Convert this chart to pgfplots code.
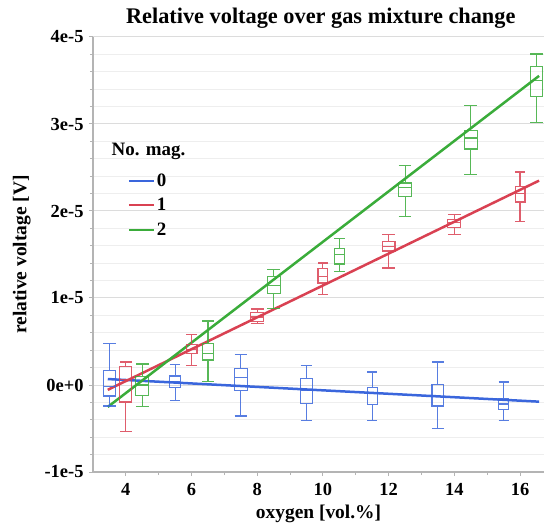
\documentclass[border=0pt]{standalone}
\usepackage{fontspec}
\setmainfont{Liberation Serif}
\usepackage{pgfplots}
\pgfplotsset{compat=1.18}

\definecolor{cblue}{RGB}{58,102,220}
\definecolor{cred}{RGB}{217,65,82}
\definecolor{cgreen}{RGB}{58,172,58}
\definecolor{gridmaj}{RGB}{220,220,220}
\definecolor{gridmin}{RGB}{238,238,238}
\definecolor{axisgray}{RGB}{180,180,180}

% One box with whiskers: colour, position, lower whisker, lower quartile,
% median, upper quartile, upper whisker, box width (voltages in 1e-5 V)
\newcommand{\voltbox}[8]{%
  \pgfmathsetmacro\bl{#2-#8/2}\pgfmathsetmacro\br{#2+#8/2}%
  \edef\doplot{\noexpand\addplot[draw=#1, line width=1.1bp, opacity=0.85,
      forget plot, unbounded coords=jump, line join=miter]
    coordinates {(\bl,#4) (\br,#4) (\br,#6) (\bl,#6) (\bl,#4) (\br,#4) (#2,nan)
      (\bl,#5) (\br,#5) (#2,nan)
      (#2,#4) (#2,#3) (#2,nan) (\bl,#3) (\br,#3) (#2,nan)
      (#2,#6) (#2,#7) (#2,nan) (\bl,#7) (\br,#7)};}%
  \doplot}

\begin{document}
\begin{tikzpicture}
\begin{axis}[
  scale only axis,
  width=451bp, height=435bp,
  xmin=3, xmax=16.73,
  ymin=-1, ymax=4,
  axis x line*=bottom, axis y line*=left,
  axis line style={axisgray, line width=1.6bp},
  xtick={4,6,8,10,12,14,16},
  xticklabels={\textbf{4},\textbf{6},\textbf{8},\textbf{10},\textbf{12},\textbf{14},\textbf{16}},
  minor xtick={5,7,9,11,13,15},
  ytick={-1,0,1,2,3,4},
  yticklabels={\textbf{-1e-5},\textbf{0e+0},\textbf{1e-5},\textbf{2e-5},\textbf{3e-5},\textbf{4e-5}},
  minor y tick num=4,
  scaled y ticks=false,
  tick style={axisgray, line width=1bp},
  major tick length=4bp, minor tick length=3bp,
  tick align=outside,
  ymajorgrids, yminorgrids,
  major grid style={gridmaj, line width=1bp},
  minor grid style={gridmin, line width=1bp},
  tick label style={font=\fontsize{18.5}{18.5}\selectfont\bfseries},
  xticklabel style={yshift=-4bp},
  yticklabel style={xshift=-2bp},
  xlabel={\textbf{oxygen [vol.\%]}},
  ylabel={\textbf{relative voltage [V]}},
  label style={font=\fontsize{19.5}{19.5}\selectfont\bfseries},
  xlabel style={yshift=-2bp},
  ylabel style={yshift=7bp},
  legend style={at={(rel axis cs:0.0705,0.695)}, anchor=north west,
    draw=none, fill=none, font=\fontsize{19}{19}\selectfont\bfseries,
    row sep=6.5bp},
  legend cell align=left,
  legend image code/.code={\draw[#1, line width=2bp] (0bp,0bp) -- (25bp,0bp);},
  clip=false,
]

% regression lines per number of magnets
\addplot[cblue, line width=2.5bp] coordinates {(3.45,0.0684) (16.58,-0.1916)};
\addlegendentry{0}
\addplot[cred, line width=2.5bp] coordinates {(3.45,-0.0555) (16.58,2.349)};
\addlegendentry{1}
\addplot[cgreen, line width=2.5bp] coordinates {(3.45,-0.252) (16.58,3.553)};
\addlegendentry{2}

% no magnet
\voltbox{cblue}{3.5}{-0.241}{-0.126}{-0.016}{0.165}{0.479}{0.38}
\voltbox{cblue}{5.5}{-0.180}{-0.027}{0.038}{0.103}{0.238}{0.32}
\voltbox{cblue}{7.5}{-0.356}{-0.065}{0.088}{0.188}{0.352}{0.38}
\voltbox{cblue}{9.5}{-0.410}{-0.211}{-0.057}{0.073}{0.222}{0.36}
\voltbox{cblue}{11.5}{-0.410}{-0.226}{-0.088}{-0.027}{0.149}{0.30}
\voltbox{cblue}{13.5}{-0.498}{-0.241}{-0.134}{0.004}{0.264}{0.36}
\voltbox{cblue}{15.5}{-0.410}{-0.280}{-0.218}{-0.161}{0.034}{0.30}

% one magnet
\voltbox{cred}{4}{-0.533}{-0.195}{0.060}{0.210}{0.264}{0.37}
\voltbox{cred}{6}{0.226}{0.364}{0.410}{0.468}{0.583}{0.33}
\voltbox{cred}{8}{0.709}{0.728}{0.782}{0.835}{0.874}{0.39}
\voltbox{cred}{10}{1.042}{1.172}{1.245}{1.341}{1.402}{0.30}
\voltbox{cred}{12}{1.345}{1.540}{1.590}{1.648}{1.732}{0.39}
\voltbox{cred}{14}{1.732}{1.808}{1.866}{1.900}{1.962}{0.39}
\voltbox{cred}{16}{1.877}{2.103}{2.199}{2.280}{2.448}{0.30}

% two magnets
\voltbox{cgreen}{4.5}{-0.246}{-0.120}{0.000}{0.099}{0.241}{0.39}
\voltbox{cgreen}{6.5}{0.038}{0.287}{0.364}{0.479}{0.736}{0.34}
\voltbox{cgreen}{8.5}{0.882}{1.049}{1.145}{1.245}{1.330}{0.40}
\voltbox{cgreen}{10.5}{1.303}{1.391}{1.502}{1.571}{1.686}{0.32}
\voltbox{cgreen}{12.5}{1.935}{2.165}{2.268}{2.322}{2.521}{0.39}
\voltbox{cgreen}{14.5}{2.422}{2.713}{2.839}{2.927}{3.211}{0.39}
\voltbox{cgreen}{16.5}{3.015}{3.318}{3.502}{3.659}{3.805}{0.37}

\node[font=\fontsize{19}{19}\selectfont\bfseries] at (rel axis cs:0.123,0.736) {No. mag.};
\node[font=\fontsize{22.4}{22.4}\selectfont\bfseries] at (rel axis cs:0.505,1.043) {Relative voltage over gas mixture change};
\end{axis}
\pgfresetboundingbox
\path[use as bounding box] (-93bp,-54bp) rectangle (451bp,472bp);
\end{tikzpicture}
\end{document}
